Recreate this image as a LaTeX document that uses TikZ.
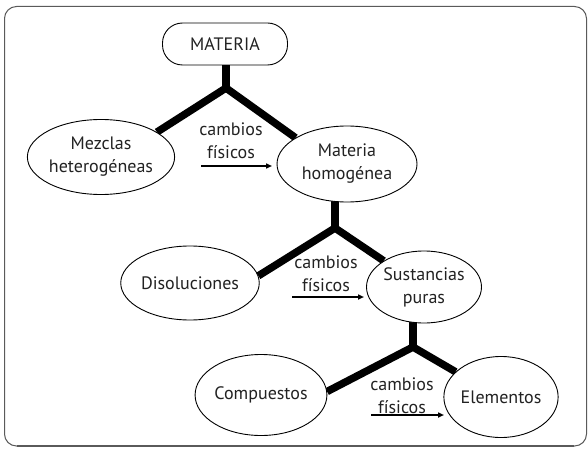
\documentclass[tikz,border=0pt]{standalone}
\usepackage{fontspec}
\setmainfont{PT Sans}
\usetikzlibrary{shapes.geometric,arrows.meta,backgrounds}
\definecolor{txt}{HTML}{222222}
\definecolor{framec}{HTML}{5A5A5A}
\tikzset{
  lbl/.style={font=\fontsize{18}{23}\selectfont, text=txt, align=center},
  ell/.style={ellipse, draw=black, line width=0.9pt, fill=white, inner sep=0pt, lbl},
  pill/.style={draw=black, line width=0.9pt, fill=white, rounded corners=20pt, lbl, inner sep=0pt},
  arm/.style={line width=7.5pt, black},
  arr/.style={line width=1.7pt, black, -{Triangle[length=6pt,width=5pt]}},
  frame/.style={draw=framec, line width=1pt, rounded corners=12pt},
}
\begin{document}
\begin{tikzpicture}[x=1pt,y=-1pt]
\useasboundingbox (0,0) rectangle (588,449);
% frame
\draw[frame] (4.5,6.5) rectangle (586.5,446);
\draw[draw=framec, line width=2.6pt] (17,446) -- (574,446);

% nodes
\node[pill, minimum width=125pt, minimum height=42pt] (mat) at (225,44) {MATERIA};
\node[ell, minimum width=135pt, minimum height=75pt] (mez) at (101,157) {Mezclas\\heterogéneas};
\node[ell, minimum width=140pt, minimum height=76pt] (mh) at (347,164) {Materia\\homogénea};
\node[ell, minimum width=114pt, minimum height=74pt] (dis) at (190,283) {Disoluciones};
\node[ell, minimum width=115pt, minimum height=72pt] (sp) at (424,287) {Sustancias\\puras};
\node[ell, minimum width=128pt, minimum height=81pt] (com) at (261,395) {Compuestos};
\node[ell, minimum width=108pt, minimum height=81pt] (ele) at (501,397) {Elementos};

\node[lbl] (l1) at (231,141) {cambios\\físicos};
\node[lbl] (l2) at (326,274) {cambios\\físicos};
\node[lbl] (l3) at (402,396) {cambios\\físicos};

\coordinate (j1) at (226,88);
\coordinate (j2) at (335,228);
\coordinate (j3) at (413,347);

\coordinate (a1s) at (201,166); \coordinate (a1e) at (272,166);
\coordinate (a2s) at (292,297); \coordinate (a2e) at (364,297);
\coordinate (a3s) at (371,415); \coordinate (a3e) at (444,415);

\begin{scope}[on background layer]
\draw[arm] (j1 |- mat.center) -- (j1);
\draw[arm] (j1) -- (mez.24);
\draw[arm] (j1) -- (mh.153);
\draw[arm] (j2 |- mh.center) -- (j2);
\draw[arm] (j2) -- (dis.6);
\draw[arm] (j2) -- (sp.147);
\draw[arm] (j3 |- sp.center) -- (j3);
\draw[arm] (j3) -- (com.3);
\draw[arm] (j3) -- (ele.151);
\fill[black] (j1) circle (3.7pt);
\fill[black] (j2) circle (3.7pt);
\fill[black] (j3) circle (3.7pt);
\end{scope}

\draw[arr] (a1s) -- (a1e);
\draw[arr] (a2s) -- (a2e);
\draw[arr] (a3s) -- (a3e);
\end{tikzpicture}
\end{document}
